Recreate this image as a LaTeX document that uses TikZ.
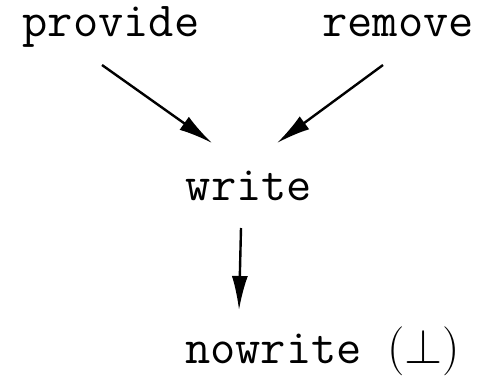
\RequirePackage{fix-cm}
\documentclass[tikz,border=0pt]{standalone}
\usetikzlibrary{arrows.meta}
\begin{document}
\begin{tikzpicture}[x=1pt,y=1pt,
  lbl/.style={font=\fontsize{49}{59}\selectfont\ttfamily, inner sep=0pt},
  arr/.style={line width=2.4pt, -{Latex[length=34pt,width=16pt]}}]
\useasboundingbox (0,0) rectangle (481,-377);
\node[lbl, anchor=base] (p) at (111,-37) {provide};
\node[lbl, anchor=base] (r) at (398,-37) {remove};
\node[lbl, anchor=base] (w) at (249,-200) {write};
\node[lbl, anchor=base west] (n) at (185,-363) {nowrite $(\perp)$};
\draw[arr] ([shift={(-9,-28)}]p.base) -- ([shift={(-37,57)}]w.base);
\draw[arr] ([shift={(-15,-28)}]r.base) -- ([shift={(28,57)}]w.base);
\draw[arr] ([shift={(-8,-28)}]w.base) -- ([shift={(54,53)}]n.base west);
\end{tikzpicture}
\end{document}
